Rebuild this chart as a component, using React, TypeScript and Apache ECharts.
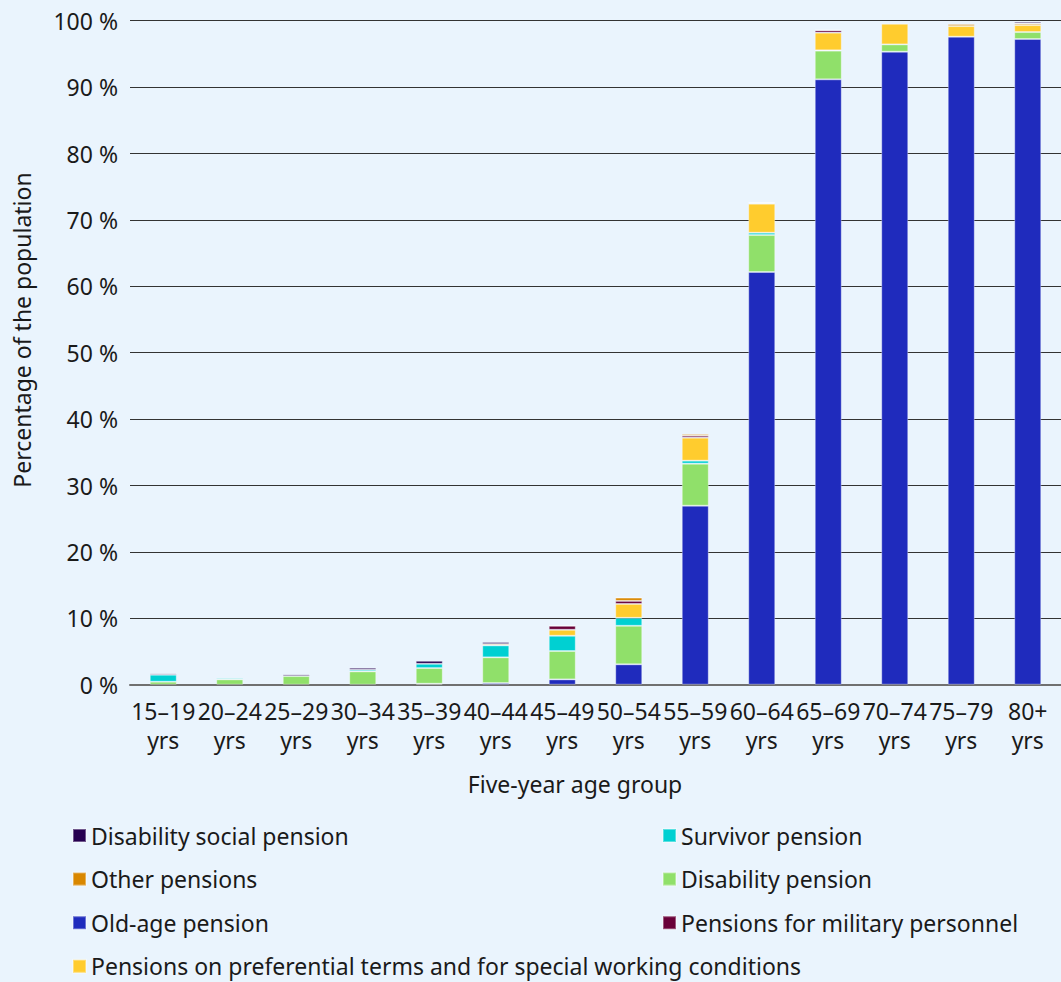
import React, { useEffect, useRef } from "react";
import * as echarts from "echarts";

// Five-year age groups (x axis)
const categories = [
  "15–19 yrs", "20–24 yrs", "25–29 yrs", "30–34 yrs", "35–39 yrs", "40–44 yrs", "45–49 yrs",
  "50–54 yrs", "55–59 yrs", "60–64 yrs", "65–69 yrs", "70–74 yrs", "75–79 yrs", "80+ yrs",
];

// Share of the population receiving each pension type, %
const oldAge = [0, 0, 0, 0, 0.15, 0.25, 0.8, 3.07, 26.96, 62.15, 91.17, 95.33, 97.59, 97.24];
const disability = [0.45, 0.8, 1.3, 2.0, 2.35, 3.87, 4.27, 5.8, 6.33, 5.57, 4.32, 1.1, 0, 1.05];
const survivor = [1.05, 0.2, 0, 0.25, 0.65, 1.8, 2.3, 1.2, 0.45, 0.35, 0.05, 0, 0, 0];
const preferential = [0, 0, 0, 0, 0, 0, 0.9, 2.1, 3.46, 4.37, 2.66, 3.11, 1.6, 1.05];
const military = [0, 0, 0, 0, 0, 0, 0.6, 0.45, 0.3, 0.15, 0.35, 0, 0, 0];
const other = [0, 0, 0, 0, 0, 0.2, 0, 0.5, 0.25, 0, 0.1, 0, 0.3, 0.25];
const disabilitySocial = [0.2, 0, 0.25, 0.3, 0.45, 0.3, 0.1, 0.1, 0, 0.05, 0, 0, 0, 0.25];

const yTicks = [0, 10, 20, 30, 40, 50, 60, 70, 80, 90, 100];

const NAMES = {
  oldAge: "Old-age pension",
  disability: "Disability pension",
  survivor: "Survivor pension",
  preferential: "Pensions on preferential terms and for special working conditions",
  military: "Pensions for military personnel",
  other: "Other pensions",
  disabilitySocial: "Disability social pension",
};

const COLORS = {
  oldAge: "#1f2bbd",
  disability: "#90e06a",
  survivor: "#00d0d2",
  preferential: "#ffcc2e",
  military: "#690038",
  other: "#d98700",
  disabilitySocial: "#260050",
};

const FONT = "'Noto Sans', 'Open Sans', sans-serif";
const TEXT = "#1a1a1a";
const FONT_SIZE = 23;

export default function App() {
  const ref = useRef<HTMLDivElement>(null);

  useEffect(() => {
    if (!ref.current) return;
    const chart = echarts.init(ref.current, null, { renderer: "svg" });

    const stackOrder: [keyof typeof NAMES, number[]][] = [
      ["oldAge", oldAge],
      ["disability", disability],
      ["survivor", survivor],
      ["preferential", preferential],
      ["military", military],
      ["other", other],
      ["disabilitySocial", disabilitySocial],
    ];

    const series = stackOrder.map(([key, values]) => ({
      name: NAMES[key],
      type: "bar",
      stack: "total",
      barWidth: 27,
      itemStyle: {
        color: COLORS[key],
        borderColor: "rgba(255,255,255,0.35)",
        borderWidth: 1,
      },
      data: values.map((v) => (v === 0 ? null : v)),
    }));

    const legendText = { fontFamily: FONT, fontSize: FONT_SIZE, color: TEXT, lineHeight: 23 };
    const legendBase = {
      orient: "vertical",
      top: 824,
      height: 158,
      padding: 0,
      itemWidth: 13,
      itemHeight: 13,
      itemGap: 20.6,
      icon: "rect",
      textStyle: legendText,
    };

    chart.setOption({
      animation: false,
      backgroundColor: "#eaf4fd",
      textStyle: { fontFamily: FONT },
      grid: { left: 130, right: -7, top: 20.7, bottom: 297.3, containLabel: false },
      xAxis: {
        type: "category",
        data: categories,
        axisTick: { show: false },
        axisLine: { show: true, lineStyle: { color: "#707070", width: 2 } },
        axisLabel: {
          interval: 0,
          margin: 12,
          fontFamily: FONT,
          fontSize: FONT_SIZE,
          lineHeight: 29,
          color: TEXT,
          formatter: (v: string) => v.replace(" ", "\n"),
        },
      },
      yAxis: {
        type: "value",
        min: yTicks[0],
        max: yTicks[yTicks.length - 1],
        interval: 10,
        axisLine: { show: false },
        axisTick: { show: false },
        axisLabel: {
          margin: 12,
          fontFamily: FONT,
          fontSize: FONT_SIZE,
          color: TEXT,
          formatter: (v: number) => `${v} %`,
        },
        splitLine: { lineStyle: { color: "#333333", width: 1 } },
      },
      legend: [
        {
          ...legendBase,
          left: 72,
          data: [NAMES.disabilitySocial, NAMES.other, NAMES.oldAge, NAMES.preferential],
        },
        {
          ...legendBase,
          left: 662,
          data: [NAMES.survivor, NAMES.disability, NAMES.military],
        },
      ],
      graphic: [
        {
          type: "text",
          x: 22,
          y: 330,
          rotation: Math.PI / 2,
          style: {
            text: "Percentage of the population",
            fontFamily: FONT,
            fontSize: FONT_SIZE,
            fill: TEXT,
            textAlign: "center",
            textVerticalAlign: "middle",
          },
        },
        {
          type: "text",
          x: 575,
          y: 784,
          style: {
            text: "Five-year age group",
            fontFamily: FONT,
            fontSize: FONT_SIZE,
            fill: TEXT,
            textAlign: "center",
            textVerticalAlign: "middle",
          },
        },
      ],
      series,
    });

    return () => chart.dispose();
  }, []);

  return (
    <div
      ref={ref}
      style={{ position: "absolute", left: 0, top: 0, width: 1061, height: 982, overflow: "hidden" }}
    />
  );
}
